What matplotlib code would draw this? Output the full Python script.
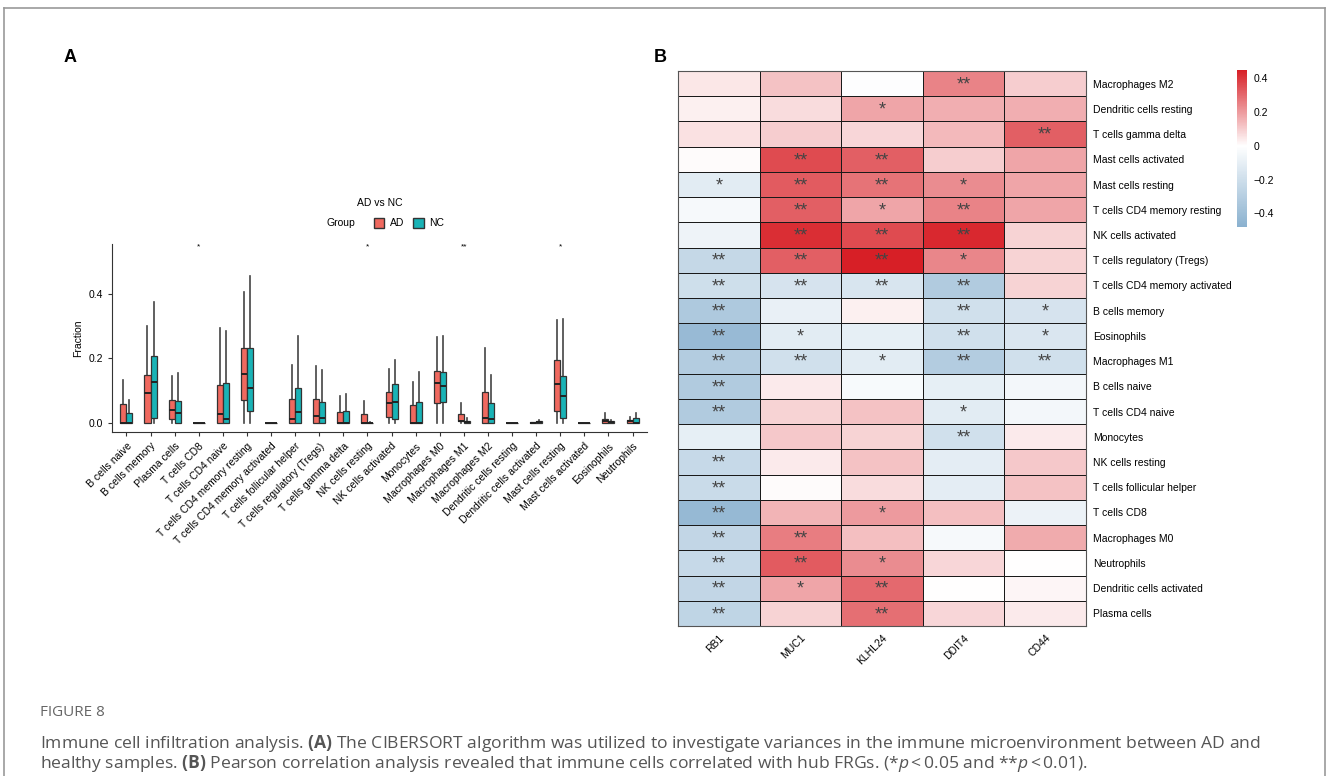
import numpy as np
import matplotlib
matplotlib.use('Agg')
import matplotlib.pyplot as plt
from matplotlib.colors import LinearSegmentedColormap
from matplotlib.patches import Patch

plt.rcParams['font.family'] = ['Liberation Sans', 'DejaVu Sans']
plt.rcParams['mathtext.fontset'] = 'custom'
plt.rcParams['mathtext.rm'] = 'Open Sans'
plt.rcParams['mathtext.it'] = 'Open Sans:italic'
plt.rcParams['mathtext.bf'] = 'Open Sans:bold'

# ---- panel A data (box statistics) ----
cells = ['B cells naive', 'B cells memory', 'Plasma cells', 'T cells CD8',
         'T cells CD4 naive', 'T cells CD4 memory resting',
         'T cells CD4 memory activated', 'T cells follicular helper',
         'T cells regulatory (Tregs)', 'T cells gamma delta', 'NK cells resting',
         'NK cells activated', 'Monocytes', 'Macrophages M0', 'Macrophages M1',
         'Macrophages M2', 'Dendritic cells resting', 'Dendritic cells activated',
         'Mast cells resting', 'Mast cells activated', 'Eosinophils', 'Neutrophils']
ad_q1 = [0, 0, 0.012, 0, 0, 0.071, 0, 0, 0, 0, 0, 0.017, 0, 0.061, 0.005, 0, 0, 0, 0.036, 0, 0, 0]
ad_med = [0, 0.093, 0.040, 0, 0.028, 0.153, 0, 0.013, 0.021, 0, 0, 0.063, 0, 0.123, 0.005, 0.016, 0, 0.001, 0.122, 0, 0.005, 0.005]
ad_q3 = [0.058, 0.150, 0.071, 0, 0.119, 0.234, 0, 0.075, 0.074, 0.033, 0.029, 0.096, 0.055, 0.161, 0.028, 0.097, 0, 0.002, 0.196, 0, 0.012, 0.008]
ad_hi = [0.134, 0.302, 0.145, 0, 0.295, 0.405, 0, 0.181, 0.178, 0.083, 0.068, 0.167, 0.127, 0.267, 0.062, 0.232, 0, 0.004, 0.318, 0, 0.031, 0.019]
nc_q1 = [0, 0.015, 0, 0, 0, 0.036, 0, 0, 0, 0, 0, 0.012, 0, 0.064, 0, 0, 0, 0, 0.016, 0, 0, 0]
nc_med = [0, 0.126, 0.031, 0, 0.012, 0.107, 0, 0.033, 0.014, 0, 0, 0.066, 0, 0.116, 0.003, 0.012, 0, 0.002, 0.085, 0, 0.002, 0]
nc_q3 = [0.032, 0.207, 0.068, 0, 0.125, 0.234, 0, 0.107, 0.066, 0.036, 0.001, 0.121, 0.065, 0.158, 0.007, 0.062, 0, 0.005, 0.147, 0, 0.006, 0.014]
nc_hi = [0.072, 0.374, 0.155, 0, 0.284, 0.455, 0, 0.269, 0.165, 0.089, 0.002, 0.194, 0.159, 0.269, 0.014, 0.148, 0, 0.008, 0.322, 0, 0.009, 0.032]
box_sig = {'T cells CD8': '*', 'NK cells resting': '*', 'Macrophages M1': '**',
           'Mast cells resting': '*'}

# ---- panel B data (correlations) ----
genes = ['RB1', 'MUC1', 'KLHL24', 'DDIT4', 'CD44']
rows = ['Macrophages M2', 'Dendritic cells resting', 'T cells gamma delta',
        'Mast cells activated', 'Mast cells resting', 'T cells CD4 memory resting',
        'NK cells activated', 'T cells regulatory (Tregs)',
        'T cells CD4 memory activated', 'B cells memory', 'Eosinophils',
        'Macrophages M1', 'B cells naive', 'T cells CD4 naive', 'Monocytes',
        'NK cells resting', 'T cells follicular helper', 'T cells CD8',
        'Macrophages M0', 'Neutrophils', 'Dendritic cells activated', 'Plasma cells']
corr = [
    [0.05, 0.12, -0.01, 0.25, 0.10],
    [0.03, 0.07, 0.18, 0.16, 0.16],
    [0.06, 0.10, 0.08, 0.14, 0.32],
    [0.01, 0.36, 0.32, 0.10, 0.18],
    [-0.12, 0.33, 0.28, 0.23, 0.18],
    [-0.04, 0.32, 0.18, 0.25, 0.18],
    [-0.07, 0.42, 0.36, 0.43, 0.09],
    [-0.24, 0.32, 0.45, 0.24, 0.09],
    [-0.20, -0.17, -0.16, -0.32, 0.09],
    [-0.33, -0.09, 0.03, -0.19, -0.17],
    [-0.42, -0.12, -0.10, -0.19, -0.15],
    [-0.31, -0.19, -0.12, -0.31, -0.19],
    [-0.32, 0.04, -0.03, -0.10, -0.05],
    [-0.32, 0.09, 0.12, -0.12, -0.05],
    [-0.10, 0.11, 0.09, -0.19, 0.04],
    [-0.23, 0.04, 0.12, -0.11, 0.11],
    [-0.22, 0.01, 0.07, -0.11, 0.12],
    [-0.43, 0.15, 0.20, 0.13, -0.08],
    [-0.25, 0.26, 0.13, -0.04, 0.17],
    [-0.23, 0.33, 0.23, 0.08, 0.00],
    [-0.25, 0.18, 0.30, 0.00, 0.02],
    [-0.26, 0.09, 0.29, 0.08, 0.04],
]
sig = [
    ['', '', '', '**', ''],
    ['', '', '*', '', ''],
    ['', '', '', '', '**'],
    ['', '**', '**', '', ''],
    ['*', '**', '**', '*', ''],
    ['', '**', '*', '**', ''],
    ['', '**', '**', '**', ''],
    ['**', '**', '**', '*', ''],
    ['**', '**', '**', '**', ''],
    ['**', '', '', '**', '*'],
    ['**', '*', '', '**', '*'],
    ['**', '**', '*', '**', '**'],
    ['**', '', '', '', ''],
    ['**', '', '', '*', ''],
    ['', '', '', '**', ''],
    ['**', '', '', '', ''],
    ['**', '', '', '', ''],
    ['**', '', '*', '', ''],
    ['**', '**', '', '', ''],
    ['**', '**', '*', '', ''],
    ['**', '*', '**', '', ''],
    ['**', '', '**', '', ''],
]

fig = plt.figure(figsize=(13.28, 7.76), dpi=100)

# ---------------- Panel A ----------------
ax = fig.add_axes([0.0843, 0.4433, 0.4029, 0.2423])
pos = np.arange(1, len(cells) + 1)

def stats(q1, med, q3, hi):
    return [dict(med=m, q1=a, q3=b, whislo=0, whishi=h, fliers=[])
            for a, m, b, h in zip(q1, med, q3, hi)]

for st, off, col in [(stats(ad_q1, ad_med, ad_q3, ad_hi), -0.125, '#F0695F'),
                     (stats(nc_q1, nc_med, nc_q3, nc_hi), 0.125, '#19B3B6')]:
    b = ax.bxp(st, positions=pos + off, widths=0.25, patch_artist=True,
               showcaps=False, showfliers=False,
               boxprops=dict(facecolor=col, edgecolor='#333333', linewidth=0.9),
               medianprops=dict(color='#222222', linewidth=1.4),
               whiskerprops=dict(color='#444444', linewidth=1.2))
    for bx in b['boxes']:
        bx.set_zorder(3)
    for md in b['medians']:
        md.set_zorder(4)

for name, s in box_sig.items():
    ax.text(cells.index(name) + 1, 0.546, s, ha='center', va='center', fontsize=6)

ax.set_xlim(0.4, 22.6)
ax.set_ylim(-0.028, 0.555)
ax.set_yticks([0, 0.2, 0.4])
ax.set_yticklabels(['0.0', '0.2', '0.4'], fontsize=7.5)
ax.set_xticks(pos)
ax.set_xticklabels(cells, rotation=45, ha='right', rotation_mode='anchor', fontsize=7.5)
ax.tick_params(length=3, color='#333333', width=0.8)
for side in ['top', 'right']:
    ax.spines[side].set_visible(False)
for side in ['left', 'bottom']:
    ax.spines[side].set_color('#333333')
ax.set_ylabel('Fraction', fontsize=7.5, labelpad=4)
ax.text(0.5, 1.218, 'AD vs NC', transform=ax.transAxes, ha='center', va='center', fontsize=7.5)
handles = [Patch(facecolor='#F0695F', edgecolor='#333333', label='AD'),
           Patch(facecolor='#19B3B6', edgecolor='#333333', label='NC')]
lg = ax.legend(handles=handles, ncol=2, loc='center', bbox_to_anchor=(0.555, 1.11),
               frameon=False, fontsize=7.5, handlelength=1.0, handleheight=1.0,
               columnspacing=0.9, handletextpad=0.5, borderpad=0)
ax.text(0.428, 1.11, 'Group', transform=ax.transAxes, ha='center', va='center', fontsize=7.5)

# ---------------- Panel B ----------------
hx = fig.add_axes([0.5105, 0.1933, 0.3073, 0.7152])
cmap = LinearSegmentedColormap.from_list(
    'rb', [(0, '#8AB1CF'), (0.48 / 0.93, '#FFFFFF'), (1, '#D71F26')])
data = np.array(corr)
mesh = hx.pcolormesh(data, cmap=cmap, vmin=-0.48, vmax=0.45,
                     edgecolors='#1a1a1a', linewidth=0.6)
hx.set_ylim(len(rows), 0)
hx.set_xlim(0, len(genes))
for i in range(len(rows)):
    for j in range(len(genes)):
        if sig[i][j]:
            hx.text(j + 0.5, i + 0.55, sig[i][j], ha='center', va='center',
                    fontsize=13, color='#444444')
hx.set_xticks(np.arange(len(genes)) + 0.5)
hx.set_xticklabels(genes, rotation=45, ha='right', rotation_mode='anchor', fontsize=7.5)
hx.set_yticks(np.arange(len(rows)) + 0.5)
hx.set_yticklabels(rows, fontsize=7.5)
hx.yaxis.tick_right()
hx.tick_params(length=0, pad=5)
for sp in hx.spines.values():
    sp.set_color('#555555')

cax = fig.add_axes([0.9315, 0.7075, 0.0075, 0.2023])
cb = fig.colorbar(mesh, cax=cax, ticks=[-0.4, -0.2, 0, 0.2, 0.4])
cb.ax.set_yticklabels(['\u22120.4', '\u22120.2', '0', '0.2', '0.4'], fontsize=7.5)
cb.ax.tick_params(length=0, pad=5)
cb.outline.set_visible(False)

# panel letters
fig.text(70 / 1328, 1 - 57 / 776, 'A', fontsize=13, fontweight='bold', ha='center', va='center')
fig.text(660 / 1328, 1 - 57 / 776, 'B', fontsize=13, fontweight='bold', ha='center', va='center')

# caption
fig.text(40 / 1328, 1 - 712 / 776, 'FIGURE 8', fontsize=11, color='#666666',
         family='Open Sans', va='center')
cap1 = (r'Immune cell infiltration analysis. $\bf{(A)}$ The CIBERSORT algorithm was utilized to '
        r'investigate variances in the immune microenvironment between AD and')
cap2 = (r'healthy samples. $\bf{(B)}$ Pearson correlation analysis revealed that immune cells '
        r'correlated with hub FRGs. (*$\it{p}$$\,$<$\,$0.05 and **$\it{p}$$\,$<$\,$0.01).')
fig.text(40 / 1328, 1 - 743 / 776, cap1, fontsize=12.6, color='#555555',
         family='Open Sans', va='center')
fig.text(40 / 1328, 1 - 764 / 776, cap2, fontsize=12.6, color='#555555',
         family='Open Sans', va='center')

# frame
fr = dict(color='#999999', linewidth=1.2, transform=fig.transFigure)
fig.add_artist(plt.Line2D([4 / 1328, 4 / 1328], [0, 1 - 8 / 776], **fr))
fig.add_artist(plt.Line2D([4 / 1328, 1325 / 1328], [1 - 8 / 776, 1 - 8 / 776], **fr))
fig.add_artist(plt.Line2D([1325 / 1328, 1325 / 1328], [0, 1 - 8 / 776], **fr))

fig.savefig('out.png', dpi=100)
